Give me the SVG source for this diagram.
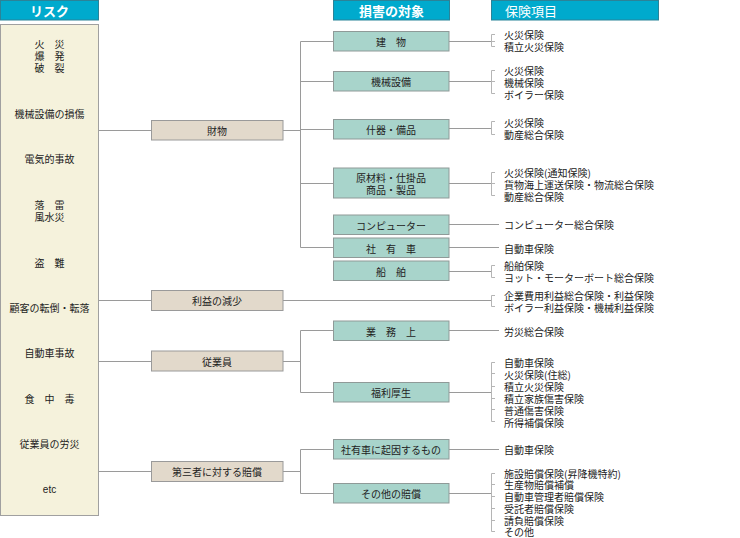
<svg xmlns="http://www.w3.org/2000/svg" width="740" height="538" viewBox="0 0 740 538">
<style>
text{font-family:"Noto Sans CJK JP","Noto Sans",sans-serif;font-size:10px;fill:#222;dominant-baseline:central}
.c{text-anchor:middle}
.hd{fill:#00aacd;stroke:#2b8398;stroke-width:1}
.ht{fill:#fff;font-weight:bold;font-size:13px}
.risk{fill:#f5f2dc;stroke:#a0a0a0;stroke-width:1}
.mid{fill:#e2d9cb;stroke:#9a9a9a;stroke-width:1}
.obj{fill:#a8d4cb;stroke:#8f9a98;stroke-width:1}
.ln{fill:none;stroke:#9a9a9a;stroke-width:1}
.br{fill:none;stroke:#b5b5b5;stroke-width:1}
</style>
<rect width="740" height="538" fill="#fff"/>

<g id="header-risk"><rect class="hd" x="0.5" y="0.5" width="98" height="19.5"/><text class="ht c" x="49.5" y="10.5">リスク</text></g>
<g id="header-target"><rect class="hd" x="333.5" y="0.5" width="116" height="19.5"/><text class="ht c" x="391.5" y="10.5">損害の対象</text></g>
<g id="header-insurance"><rect class="hd" x="491.5" y="0.5" width="167" height="19.5"/><text class="ht" x="505" y="10.5" style="font-weight:normal">保険項目</text></g>

<g id="risks">
<rect class="risk" x="0.5" y="24.5" width="98" height="491"/>
<text class="c" x="49.5" y="43">火　災</text>
<text class="c" x="49.5" y="55">爆　発</text>
<text class="c" x="49.5" y="67">破　裂</text>
<text class="c" x="49.5" y="113">機械設備の損傷</text>
<text class="c" x="49.5" y="158">電気的事故</text>
<text class="c" x="49.5" y="204">落　雷</text>
<text class="c" x="49.5" y="216">風水災</text>
<text class="c" x="49.5" y="262">盗　難</text>
<text class="c" x="49.5" y="307">顧客の転倒・転落</text>
<text class="c" x="49.5" y="352">自動車事故</text>
<text class="c" x="49.5" y="398">食　中　毒</text>
<text class="c" x="49.5" y="443">従業員の労災</text>
<text class="c" x="49.5" y="489" style="font-family:'Liberation Sans',sans-serif">etc</text>
</g>

<g id="connectors">
<path class="ln" d="M99 130.5H151M99 300.5H151M99 361.5H151M99 471.5H151"/>
<path class="ln" d="M283 130.5H300.5M300.5 41.5V247.5M300.5 41.5H333M300.5 81.5H333M300.5 129.5H333M300.5 183.5H333M300.5 247.5H333"/>
<path class="ln" d="M283 300.5H491"/>
<path class="ln" d="M283 361.5H300.5M300.5 330.5V392.5M300.5 330.5H333M300.5 392.5H333"/>
<path class="ln" d="M283 471.5H300.5M300.5 449.5V493.5M300.5 449.5H333M300.5 493.5H333"/>
<path class="ln" d="M449 41.5H491M449 81.5H491M449 128.5H491M449 183.5H491M449 271.5H491M449 392.5H491M449 493.5H491"/>
<path class="ln" d="M449 224.5H499M449 247.5H499M449 330.5H499M449 449.5H499"/>
<path class="br" d="M495 34.5H491.5V46.5H495M491.5 41.5H495"/>
<path class="br" d="M495 70.5H491.5V93.5H495M491.5 81.5H495"/>
<path class="br" d="M495 121.5H491.5V134.5H495"/>
<path class="br" d="M495 172.5H491.5V195.5H495M491.5 183.5H495"/>
<path class="br" d="M495 265.5H491.5V277.5H495"/>
<path class="br" d="M495 295.5H491.5V306.5H495"/>
<path class="br" d="M495 362.5H491.5V421.5H495M491.5 373.5H495M491.5 386.5H495M491.5 398.5H495M491.5 409.5H495"/>
<path class="br" d="M495 473.5H491.5V531.5H495M491.5 484.5H495M491.5 496.5H495M491.5 508.5H495M491.5 520.5H495"/>
</g>

<g id="loss-property"><rect class="mid" x="151.5" y="120.5" width="131.5" height="19.5"/><text class="c" x="217" y="130.5">財物</text></g>
<g id="loss-profit"><rect class="mid" x="151.5" y="290.5" width="131.5" height="20"/><text class="c" x="217" y="300.5">利益の減少</text></g>
<g id="loss-employee"><rect class="mid" x="151.5" y="351" width="131.5" height="20"/><text class="c" x="217" y="361">従業員</text></g>
<g id="loss-third"><rect class="mid" x="151.5" y="461.5" width="131.5" height="20"/><text class="c" x="217" y="471.5">第三者に対する賠償</text></g>

<g id="obj-building"><rect class="obj" x="333.5" y="31.5" width="115.5" height="19.5"/><text class="c" x="391" y="41.5">建　物</text></g>
<g id="obj-machine"><rect class="obj" x="333.5" y="71.5" width="115.5" height="19.5"/><text class="c" x="391" y="81.5">機械設備</text></g>
<g id="obj-fixtures"><rect class="obj" x="333.5" y="119.5" width="115.5" height="19.5"/><text class="c" x="391" y="129.5">什器・備品</text></g>
<g id="obj-materials"><rect class="obj" x="333.5" y="168" width="115.5" height="30"/><text class="c" x="391" y="177">原材料・仕掛品</text><text class="c" x="391" y="189.5">商品・製品</text></g>
<g id="obj-computer"><rect class="obj" x="333.5" y="215" width="115.5" height="19.5"/><text class="c" x="391" y="225">コンピューター</text></g>
<g id="obj-car"><rect class="obj" x="333.5" y="238" width="115.5" height="19.5"/><text class="c" x="391" y="248">社　有　車</text></g>
<g id="obj-ship"><rect class="obj" x="333.5" y="261" width="115.5" height="19.5"/><text class="c" x="391" y="271">船　舶</text></g>
<g id="obj-work"><rect class="obj" x="333.5" y="321" width="115.5" height="19.5"/><text class="c" x="391" y="331">業　務　上</text></g>
<g id="obj-welfare"><rect class="obj" x="333.5" y="382.5" width="115.5" height="19.5"/><text class="c" x="391" y="392.5">福利厚生</text></g>
<g id="obj-carcause"><rect class="obj" x="333.5" y="439.5" width="115.5" height="19.5"/><text class="c" x="391" y="449.5">社有車に起因するもの</text></g>
<g id="obj-other"><rect class="obj" x="333.5" y="483.5" width="115.5" height="19.5"/><text class="c" x="391" y="493.5">その他の賠償</text></g>

<g id="insurance">
<text x="504" y="34">火災保険</text>
<text x="504" y="46">積立火災保険</text>
<text x="504" y="70">火災保険</text>
<text x="504" y="82">機械保険</text>
<text x="504" y="94">ボイラー保険</text>
<text x="504" y="122">火災保険</text>
<text x="504" y="134">動産総合保険</text>
<text x="504" y="172">火災保険(通知保険)</text>
<text x="504" y="184">貨物海上運送保険・物流総合保険</text>
<text x="504" y="196">動産総合保険</text>
<text x="504" y="224">コンピューター総合保険</text>
<text x="504" y="248">自動車保険</text>
<text x="504" y="265">船舶保険</text>
<text x="504" y="277">ヨット・モーターボート総合保険</text>
<text x="504" y="295">企業費用利益総合保険・利益保険</text>
<text x="504" y="307">ボイラー利益保険・機械利益保険</text>
<text x="504" y="331">労災総合保険</text>
<text x="504" y="362">自動車保険</text>
<text x="504" y="374">火災保険(住総)</text>
<text x="504" y="386">積立火災保険</text>
<text x="504" y="398">積立家族傷害保険</text>
<text x="504" y="410">普通傷害保険</text>
<text x="504" y="422">所得補償保険</text>
<text x="504" y="449">自動車保険</text>
<text x="504" y="473">施設賠償保険(昇降機特約)</text>
<text x="504" y="484.8">生産物賠償補償</text>
<text x="504" y="496.6">自動車管理者賠償保険</text>
<text x="504" y="508.4">受託者賠償保険</text>
<text x="504" y="520.2">請負賠償保険</text>
<text x="504" y="531.5">その他</text>
</g>
</svg>
